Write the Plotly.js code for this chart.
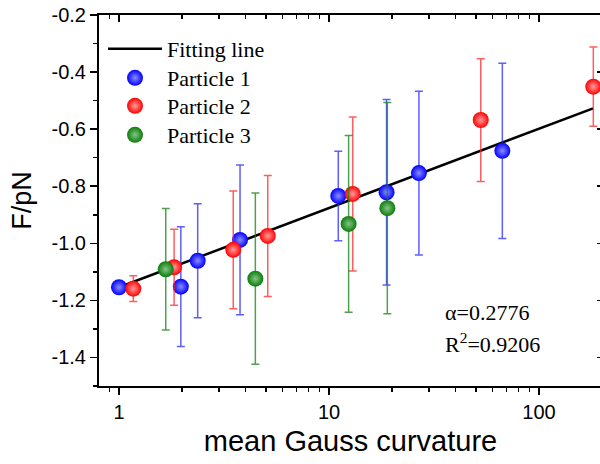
<!DOCTYPE html>
<html>
<head>
<meta charset="utf-8">
<script src="https://cdn.plot.ly/plotly-3.0.1.min.js"></script>
<style>html,body{margin:0;padding:0;overflow:hidden;background:#fff;}</style>
</head>
<body>
<div id="chart" style="width:604px;height:464px;"></div>
<script>
// Fitting line
const fitX = [1, 181];
const fitY = [-1.154, -0.527];

// Particle 1 (blue)
const p1X = [1.00, 1.97, 2.37, 3.77, 11.07, 18.8, 26.8, 66.9];
const p1Y = [-1.154, -1.152, -1.061, -0.988, -0.834, -0.821, -0.754, -0.676];
const p1Err = [0.0, 0.21, 0.20, 0.262, 0.157, 0.325, 0.287, 0.307];

// Particle 2 (red)
const p2X = [1.17, 1.83, 3.50, 5.11, 12.97, 52.8, 181.4];
const p2Y = [-1.159, -1.084, -1.023, -0.974, -0.827, -0.568, -0.451];
const p2Err = [0.045, 0.133, 0.206, 0.212, 0.27, 0.215, 0.139];

// Particle 3 (green)
const p3X = [1.67, 4.46, 12.4, 18.96];
const p3Y = [-1.091, -1.124, -0.932, -0.877];
const p3Err = [0.213, 0.30, 0.31, 0.37];

const names = ['Fitting line', 'Particle 1', 'Particle 2', 'Particle 3'];
const xTickVals = [1, 10, 100];
const xTickText = ['1', '10', '100'];
const xMinorVals = [0.8, 0.9, 2, 3, 4, 5, 6, 7, 8, 9, 20, 30, 40, 50, 60, 70, 80, 90, 200];
const yTickVals = [-1.4, -1.2, -1.0, -0.8, -0.6, -0.4, -0.2];
const yTickText = ['-1.4', '-1.2', '-1.0', '-0.8', '-0.6', '-0.4', '-0.2'];
const statText = ['α=0.2776', 'R<sup>2</sup>=0.9206'];

function ball(x, y, err, name, col, hi, ecol, leg) {
  return {
    x: x, y: y, type: 'scatter', mode: 'markers', name: name, legend: leg,
    marker: {size: 16, color: col, line: {width: 0}, gradient: {type: 'radial', color: hi}},
    error_y: {type: 'data', array: err, visible: true, color: ecol, thickness: 1.5, width: 4},
    cliponaxis: false
  };
}

const traces = [
  {x: fitX, y: fitY, type: 'scatter', mode: 'lines', name: names[0], legend: 'legend',
   line: {color: '#000', width: 2.5}},
  ball(p1X, p1Y, p1Err, names[1], '#0000ff', '#8c8cff', 'rgba(40,40,255,0.75)', 'legend2'),
  ball(p2X, p2Y, p2Err, names[2], '#ff0000', '#ff9c9c', 'rgba(255,40,40,0.75)', 'legend3'),
  ball(p3X, p3Y, p3Err, names[3], '#0a7d0a', '#86c486', 'rgba(20,130,20,0.75)', 'legend4'),
  {x: [], y: [], xaxis: 'x2', yaxis: 'y2', type: 'scatter', mode: 'markers', showlegend: false, hoverinfo: 'skip'}
];

const xr = [-0.0952, 2.3];
const yr = [-1.5, -0.2];
const tickFont = {family: 'Liberation Sans, Arial, sans-serif', size: 20, color: '#000'};
const legFont = {family: 'Liberation Serif, Times New Roman, serif', size: 22, color: '#000'};

function legendAt(ypx) {
  return {x: (103 - 99) / 503, xanchor: 'left', y: (386 - ypx) / 371, yanchor: 'middle',
          bgcolor: 'rgba(0,0,0,0)', borderwidth: 0, font: legFont, itemwidth: 54};
}

const layout = {
  width: 604, height: 464,
  margin: {l: 99, r: 2, t: 15, b: 78},
  paper_bgcolor: '#fff', plot_bgcolor: '#fff',
  showlegend: true,
  xaxis: {
    type: 'log', range: xr, autorange: false,
    tickvals: xTickVals, ticktext: xTickText,
    ticks: 'outside', ticklen: 7, tickwidth: 1.5, tickcolor: '#000',
    minor: {tickvals: xMinorVals, ticks: 'outside', ticklen: 4, tickwidth: 1.5, tickcolor: '#000', showgrid: false},
    showline: true, linewidth: 2, linecolor: '#000', showgrid: false, zeroline: false,
    tickfont: tickFont,
    title: {text: 'mean Gauss curvature', font: {family: 'Liberation Sans, Arial, sans-serif', size: 29, color: '#000'}, standoff: 9}
  },
  yaxis: {
    range: yr, autorange: false,
    tickvals: yTickVals, ticktext: yTickText,
    ticks: 'outside', ticklen: 7, tickwidth: 1.5, tickcolor: '#000',
    minor: {dtick: 0.1, ticks: 'outside', ticklen: 4, tickwidth: 1.5, tickcolor: '#000', showgrid: false},
    showline: true, linewidth: 2, linecolor: '#000', showgrid: false, zeroline: false,
    tickfont: tickFont,
    title: {text: 'F/pN', font: {family: 'Liberation Sans, Arial, sans-serif', size: 27, color: '#000'}, standoff: 12}
  },
  xaxis2: {
    type: 'log', range: xr, autorange: false, overlaying: 'x', side: 'top', anchor: 'y',
    tickvals: xTickVals, showticklabels: false,
    ticks: 'inside', ticklen: 7, tickwidth: 1.5, tickcolor: '#000',
    minor: {tickvals: xMinorVals, ticks: 'inside', ticklen: 4, tickwidth: 1.5, tickcolor: '#000', showgrid: false},
    showline: true, linewidth: 2, linecolor: '#000', showgrid: false, zeroline: false
  },
  yaxis2: {
    range: yr, autorange: false, overlaying: 'y', side: 'right', anchor: 'x',
    tickvals: yTickVals, showticklabels: false,
    ticks: 'inside', ticklen: 5, tickwidth: 1.5, tickcolor: '#000',
    minor: {dtick: 0.1, ticks: 'inside', ticklen: 2, tickwidth: 1.5, tickcolor: '#000', showgrid: false},
    showline: true, linewidth: 2, linecolor: '#000', showgrid: false, zeroline: false
  },
  legend: legendAt(49),
  legend2: legendAt(78),
  legend3: legendAt(106),
  legend4: legendAt(135),
  annotations: [
    {xref: 'paper', yref: 'paper', x: (443 - 99) / 503, xanchor: 'left', y: (386 - 312) / 371, yanchor: 'middle',
     text: statText[0], showarrow: false, font: legFont},
    {xref: 'paper', yref: 'paper', x: (443 - 99) / 503, xanchor: 'left', y: (386 - 343) / 371, yanchor: 'middle',
     text: statText[1], showarrow: false, font: legFont}
  ]
};

Plotly.newPlot('chart', traces, layout, {staticPlot: true, displayModeBar: false});
</script>
</body>
</html>
